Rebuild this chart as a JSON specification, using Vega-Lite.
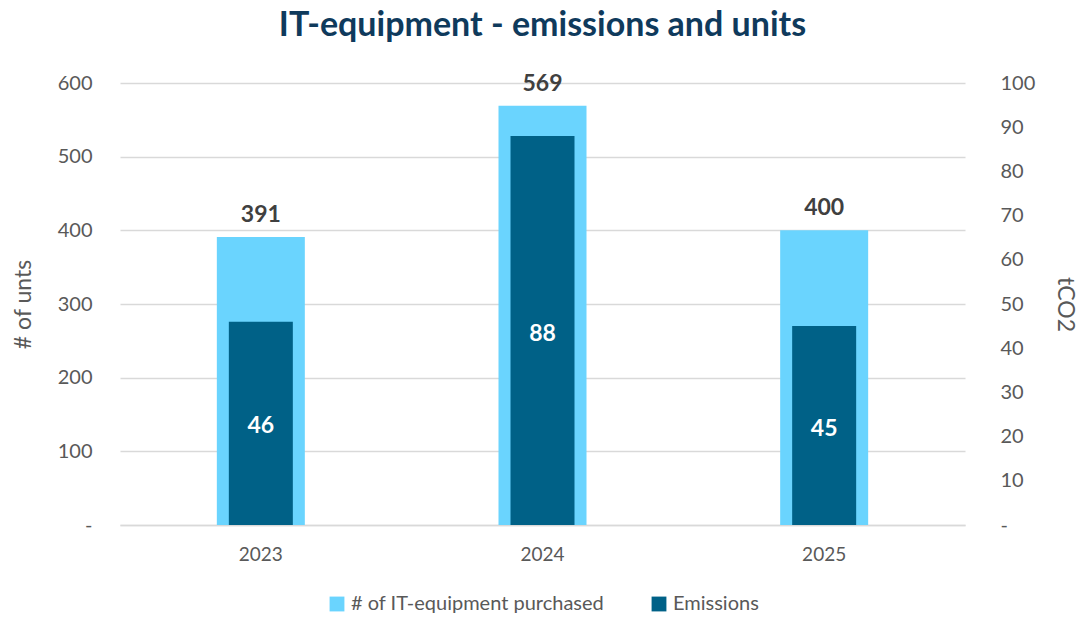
{
  "$schema": "https://vega.github.io/schema/vega-lite/v6.json",
  "width": 845,
  "height": 442,
  "autosize": {"type": "none"},
  "padding": {"left": 120, "top": 83, "right": 118, "bottom": 94},
  "background": "white",
  "config": {
    "view": {"stroke": null},
    "font": "Lato",
    "axis": {"labelFont": "Lato", "titleFont": "Lato"},
    "legend": {"layout": {"bottom": {"anchor": "middle"}}}
  },
  "title": {
    "text": "IT-equipment - emissions and units",
    "fontSize": 34,
    "fontWeight": "bold",
    "color": "#0f3a5c",
    "anchor": "middle",
    "offset": 30,
    "font": "Lato"
  },
  "data": {
    "values": [
      {"year": "2023", "units": 391, "emissions": 46},
      {"year": "2024", "units": 569, "emissions": 88},
      {"year": "2025", "units": 400, "emissions": 45}
    ]
  },
  "encoding": {
    "x": {
      "field": "year",
      "type": "nominal",
      "scale": {"paddingInner": 0, "paddingOuter": 0},
      "axis": {
        "title": null,
        "labelAngle": 0,
        "labelFontSize": 19,
        "labelColor": "#595959",
        "ticks": false,
        "domainColor": "#d9d9d9",
        "domainWidth": 1.5,
        "labelPadding": 20
      }
    }
  },
  "layer": [
    {
      "layer": [
        {
          "mark": {"type": "bar", "width": 88},
          "encoding": {
            "y": {
              "field": "units",
              "type": "quantitative",
              "scale": {"domain": [0, 600], "nice": false},
              "axis": {
                "title": "# of unts",
                "titleFontSize": 23,
                "titleFontWeight": "normal",
                "titleColor": "#595959",
                "titlePadding": 22,
                "labelFontSize": 20,
                "labelColor": "#595959",
                "labelPadding": 28,
                "ticks": false,
                "domain": false,
                "values": [0, 100, 200, 300, 400, 500, 600],
                "labelExpr": "datum.value == 0 ? '-' : datum.label",
                "gridColor": "#d9d9d9",
                "gridWidth": 1.5
              }
            },
            "color": {
              "datum": "# of IT-equipment purchased",
              "type": "nominal",
              "scale": {
                "domain": ["# of IT-equipment purchased", "Emissions"],
                "range": ["#6ad4fe", "#006187"]
              },
              "legend": {
                "title": null,
                "orient": "bottom",
                "direction": "horizontal",
                "symbolType": "square",
                "symbolSize": 220,
                "symbolStrokeWidth": 0,
                "labelFontSize": 20,
                "labelColor": "#595959",
                "labelFont": "Lato",
                "labelLimit": 0,
                "columnPadding": 44,
                "offset": 30
              }
            }
          }
        },
        {
          "mark": {"type": "text", "dy": -22, "fontSize": 23, "fontWeight": "bold", "color": "#404040"},
          "encoding": {
            "y": {"field": "units", "type": "quantitative"},
            "text": {"field": "units", "type": "quantitative"}
          }
        }
      ]
    },
    {
      "mark": {"type": "bar", "width": 64},
      "encoding": {
        "y": {
          "field": "emissions",
          "type": "quantitative",
          "scale": {"domain": [0, 100], "nice": false},
          "axis": {
            "orient": "right",
            "title": "tCO2",
            "titleFontSize": 23,
            "titleFontWeight": "normal",
            "titleColor": "#595959",
            "titlePadding": 18,
            "labelFontSize": 20,
            "labelColor": "#595959",
            "labelPadding": 35,
            "ticks": false,
            "domain": false,
            "grid": false,
            "values": [0, 10, 20, 30, 40, 50, 60, 70, 80, 90, 100],
            "labelExpr": "datum.value == 0 ? '-' : datum.label"
          }
        },
        "color": {"datum": "Emissions", "type": "nominal"}
      }
    },
    {
      "mark": {"type": "text", "fontSize": 23, "fontWeight": "bold", "color": "white", "baseline": "middle", "dy": 3},
      "encoding": {
        "y": {
          "field": "emissions",
          "type": "quantitative",
          "scale": {"domain": [0, 200], "nice": false},
          "axis": null
        },
        "text": {"field": "emissions", "type": "quantitative"}
      }
    }
  ],
  "resolve": {"scale": {"y": "independent"}}
}
